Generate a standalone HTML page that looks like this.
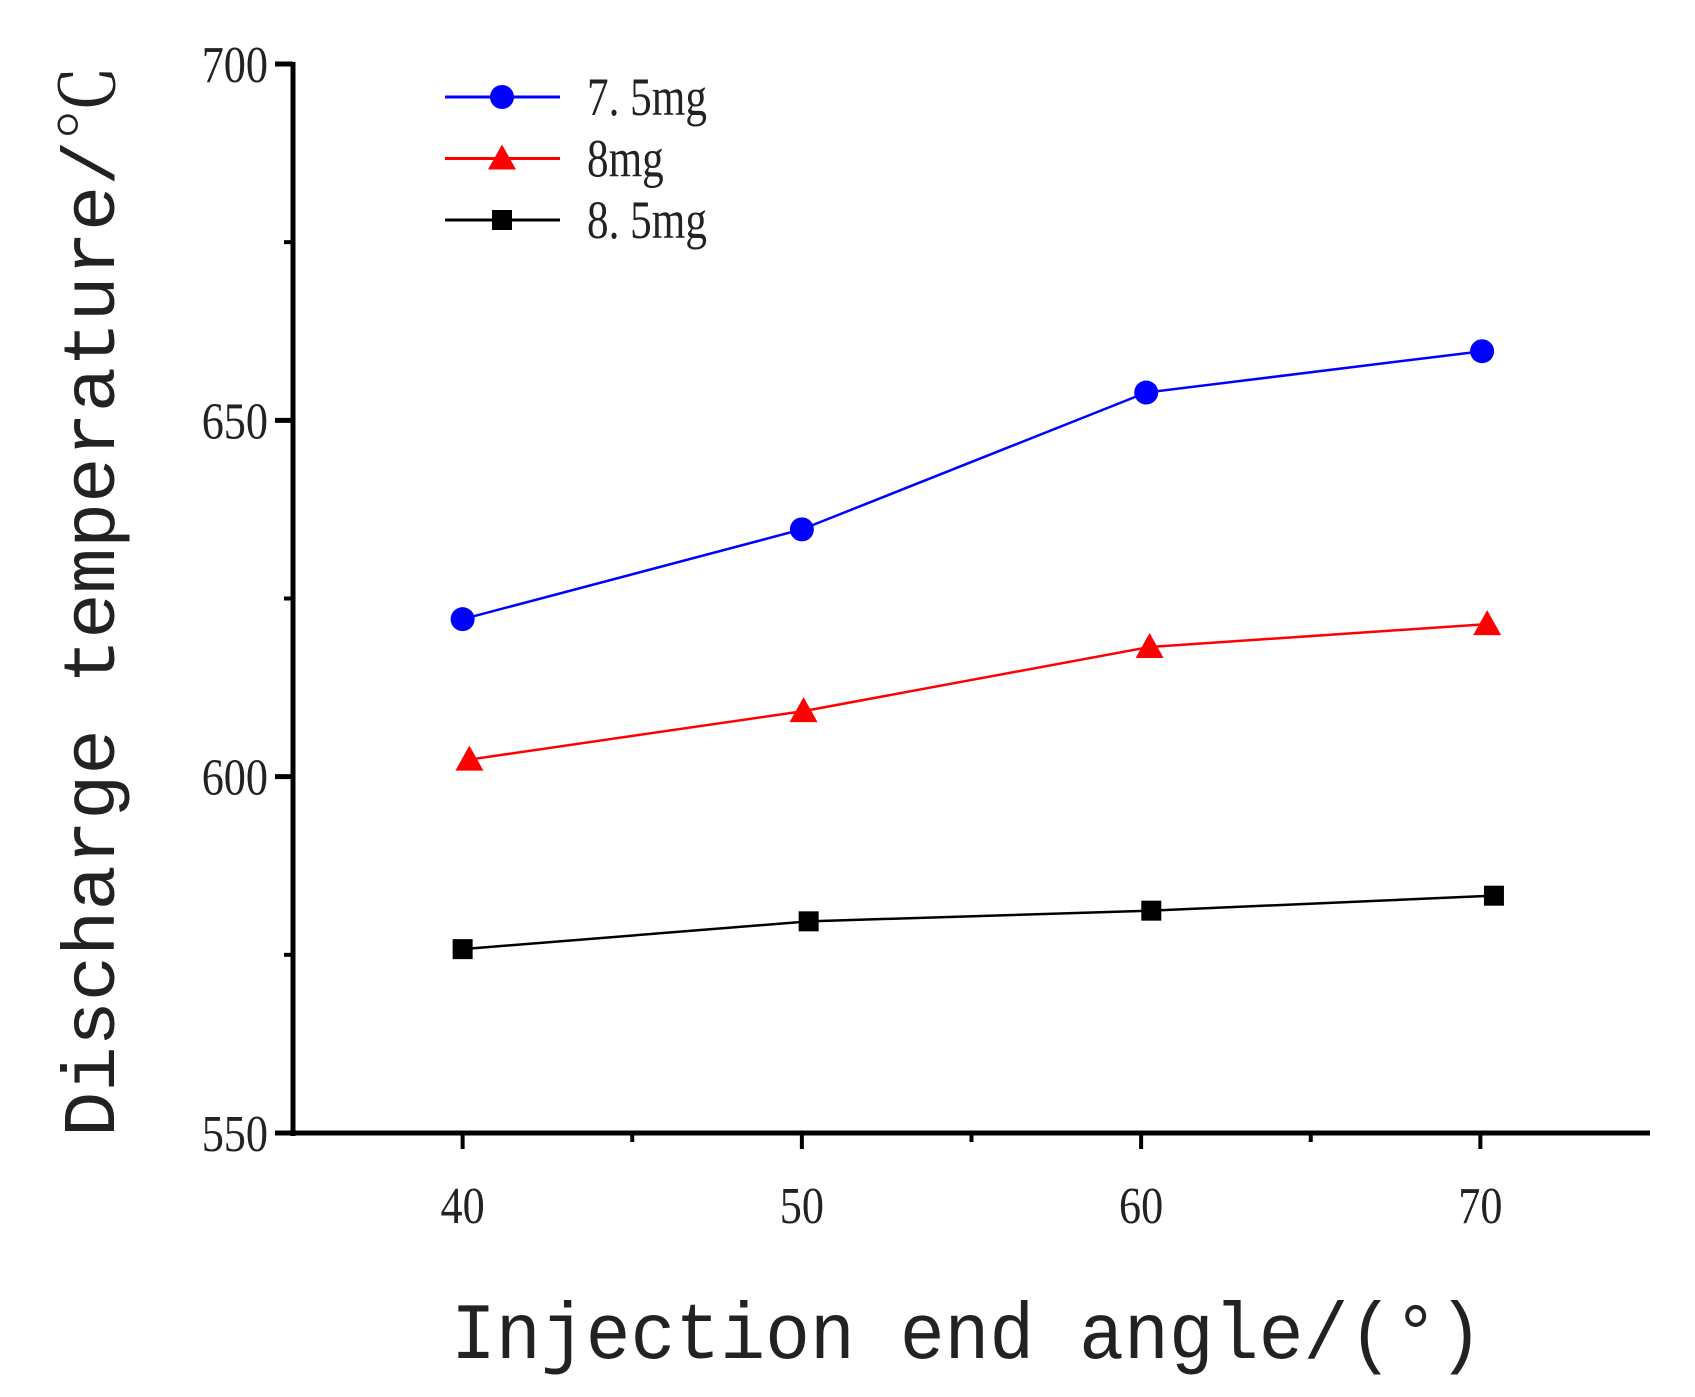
<!DOCTYPE html>
<html><head><meta charset="utf-8"><style>
html,body{margin:0;padding:0;background:#fff;}
svg{display:block;}
text{font-family:"Liberation Serif","Noto Serif CJK SC",serif;fill:#222;}
.mono{font-family:"Liberation Mono","Noto Serif CJK SC",monospace;}
</style></head><body>
<svg id="chart" width="1695" height="1397" viewBox="0 0 1695 1397" xmlns="http://www.w3.org/2000/svg">
<g id="axes"></g>
<g id="series"></g>
<g id="legend"></g>
<text class="mono" transform="translate(114,601) rotate(-90)" text-anchor="middle" font-size="74" textLength="1072" lengthAdjust="spacingAndGlyphs">Discharge temperature/℃</text>
<text class="mono" x="967" y="1358" text-anchor="middle" font-size="80" textLength="1032" lengthAdjust="spacingAndGlyphs">Injection end angle/(°)</text>
</svg>
<script>
const xTicks = [40, 50, 60, 70];
const xMinor = [45, 55, 65];
const yTicks = [550, 600, 650, 700];
const yMinor = [575, 625, 675];
const seriesNames = ["7.5mg", "8mg", "8.5mg"];
const x75 = [40.0, 50.0, 60.15, 70.05];
const y75 = [622.1, 634.7, 653.9, 659.7];
const x8 = [40.2, 50.05, 60.25, 70.2];
const y8 = [602.4, 609.2, 618.2, 621.4];
const x85 = [40.0, 50.2, 60.3, 70.4];
const y85 = [575.8, 579.7, 581.2, 583.3];

const X0 = 293, X1 = 1650, XMIN = 35, XMAX = 75;
const Y0 = 1133, Y1 = 64, YMIN = 550, YMAX = 700;
function sx(v){ return X0 + (v - XMIN) / (XMAX - XMIN) * (X1 - X0); }
function sy(v){ return Y0 - (v - YMIN) / (YMAX - YMIN) * (Y0 - Y1); }
const NS = "http://www.w3.org/2000/svg";
function mk(tag, attrs, parent){
  const e = document.createElementNS(NS, tag);
  for (const k in attrs) e.setAttribute(k, attrs[k]);
  parent.appendChild(e);
  return e;
}
const axes = document.getElementById("axes");
let e;
e = mk("line", {x1:X0, y1:Y1-2, x2:X0, y2:Y0+3, stroke:"#000", "stroke-width":5}, axes);


e = mk("line", {x1:X0-2, y1:Y0, x2:X1, y2:Y0, stroke:"#000", "stroke-width":5}, axes);


yTicks.forEach(v => {
  const t = mk("line", {x1:X0-18, y1:sy(v), x2:X0, y2:sy(v), stroke:"#000", "stroke-width":5}, axes);
  
  
  const l = mk("text", {x:0, y:0, "text-anchor":"end", "font-size":52, transform:`translate(${X0-25},${sy(v)+18}) scale(0.85,1)`}, axes);
  l.textContent = v;
  
  
});
yMinor.forEach(v => {
  const t = mk("line", {x1:X0-9, y1:sy(v), x2:X0, y2:sy(v), stroke:"#000", "stroke-width":4}, axes);
  
  
});
xTicks.forEach(v => {
  const t = mk("line", {x1:sx(v), y1:Y0, x2:sx(v), y2:Y0+16, stroke:"#000", "stroke-width":4}, axes);
  
  
  const l = mk("text", {x:0, y:0, "text-anchor":"middle", "font-size":52, transform:`translate(${sx(v)},${Y0+90}) scale(0.85,1)`}, axes);
  l.textContent = v;
  
  
});
xMinor.forEach(v => {
  const t = mk("line", {x1:sx(v), y1:Y0, x2:sx(v), y2:Y0+9, stroke:"#000", "stroke-width":4}, axes);
  
  
});

function marker(kind, cx, cy, color, parent){
  let m;
  if (kind === "circle") m = mk("circle", {cx:cx, cy:cy, r:12, fill:color}, parent);
  else if (kind === "tri") m = mk("polygon", {points:`${cx},${cy-14} ${cx-14},${cy+11} ${cx+14},${cy+11}`, fill:color}, parent);
  else m = mk("rect", {x:cx-10, y:cy-10, width:20, height:20, fill:color}, parent);
  return m;
}
const seriesG = document.getElementById("series");
const defs = [
  {xs:x75, ys:y75, color:"#0000ff", kind:"circle", slug:"7-5mg"},
  {xs:x8, ys:y8, color:"#ff0000", kind:"tri", slug:"8mg"},
  {xs:x85, ys:y85, color:"#000000", kind:"square", slug:"8-5mg"}
];
defs.forEach((s, i) => {
  const pts = s.xs.map((x, j) => sx(x) + "," + sy(s.ys[j])).join(" ");
  const pl = mk("polyline", {points:pts, fill:"none", stroke:s.color, "stroke-width":2.5}, seriesG);
  
  
  s.xs.forEach((x, j) => {
    const m = marker(s.kind, sx(x), sy(s.ys[j]), s.color, seriesG);
    
    
  });
  const lg = document.getElementById("legend");
  const ly = 97 + i * 61.5;
  const ll = mk("line", {x1:445, y1:ly, x2:560, y2:ly, stroke:s.color, "stroke-width":3}, lg);
  
  
  const lm = marker(s.kind, 502, ly, s.color, lg);
  
  
  const lt = mk("text", {x:0, y:0, "font-size":54, transform:`translate(587,${ly+18}) scale(0.8,1)`}, lg);
  lt.textContent = seriesNames[i].replace(".", ". ");
  
  
});
</script>
</body></html>
